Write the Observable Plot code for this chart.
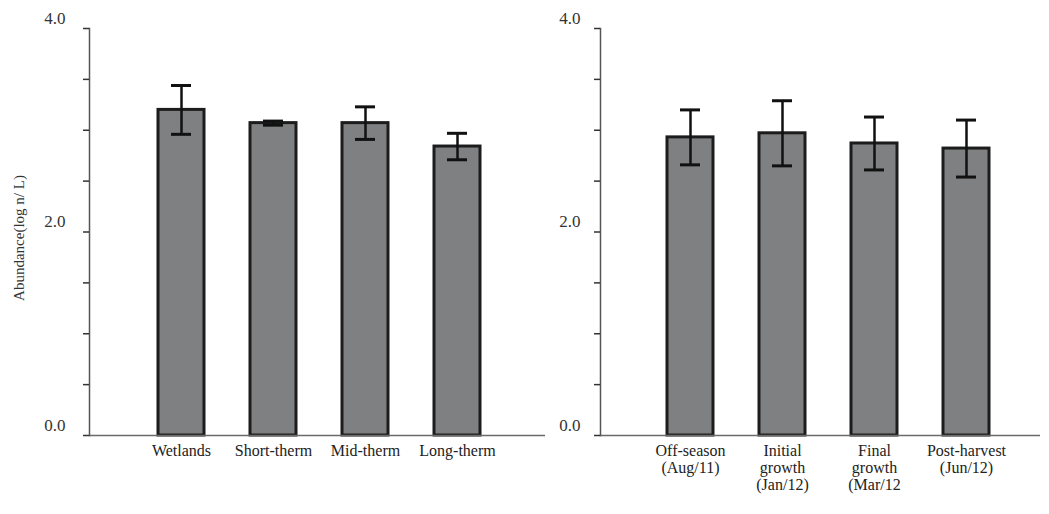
<!DOCTYPE html>
<html>
<head>
<meta charset="utf-8">
<script src="https://cdn.jsdelivr.net/npm/d3@7"></script>
<script src="https://cdn.jsdelivr.net/npm/@observablehq/plot@0.6"></script>
<style>
  html, body { margin: 0; padding: 0; background: #fff; }
  #charts { display: flex; flex-direction: row; width: 1049px; height: 514px; }
  #charts svg { max-width: none; flex: none; }
</style>
</head>
<body>
<div id="charts"></div>
<script>
// Abundance by land-use age (left) and by crop stage (right), mean ± error
const landCategories = ["Wetlands", "Short-therm", "Mid-therm", "Long-therm"];
const landMeans = [3.20, 3.07, 3.07, 2.84];
const landErrors = [0.24, 0.02, 0.16, 0.13];

const stageCategories = [
  "Off-season\n(Aug/11)",
  "Initial\ngrowth\n(Jan/12)",
  "Final\ngrowth\n(Mar/12",
  "Post-harvest\n(Jun/12)"
];
const stageMeans = [2.93, 2.97, 2.87, 2.82];
const stageErrors = [0.27, 0.32, 0.26, 0.28];

const yLabelTicks = [0, 2, 4];
const yMinorTicks = [0, 0.5, 1, 1.5, 2, 2.5, 3, 3.5, 4];
const yTitle = "Abundance(log n/ L)";

const font = "'Liberation Serif', 'DejaVu Serif', serif";

function panel({categories, means, errors, width, marginLeft, marginRight, xRange, labelPad, title}) {
  const rows = categories.map((c, i) => ({cat: c, v: means[i], e: errors[i]}));
  const marks = [
    // bars
    Plot.barY(rows, {x: "cat", y: "v", fill: "#7f8082", stroke: "#1c1c1c", strokeWidth: 3}),
    // error bars
    Plot.ruleX(rows, {x: "cat", y1: d => d.v - d.e, y2: d => d.v + d.e, stroke: "#111", strokeWidth: 2.5}),
    Plot.tickY(rows, {x: "cat", y: d => d.v + d.e, stroke: "#111", strokeWidth: 3, insetLeft: 13, insetRight: 13}),
    Plot.tickY(rows, {x: "cat", y: d => d.v - d.e, stroke: "#111", strokeWidth: 3, insetLeft: 13, insetRight: 13}),
    // axes
    Plot.ruleY([0], {stroke: "#6a6a6a", strokeWidth: 1.5}),
    Plot.frame({anchor: "left", stroke: "#555", strokeWidth: 1.5}),
    Plot.axisY({ticks: yMinorTicks, tickSize: 6, tickFormat: () => "", label: null, stroke: "#333", strokeWidth: 1.5}),
    Plot.axisY({ticks: yLabelTicks, tickSize: 0, tickPadding: labelPad, tickFormat: d => d.toFixed(1),
                label: null, dy: -10, fontSize: 17, fill: "#333"}),
    Plot.axisX({tickSize: 0, tickPadding: 9, fontSize: 16, lineHeight: 1.05, textAnchor: "middle",
                label: null, fill: "#222", lineAnchor: "top"})
  ];
  if (title) {
    marks.push(Plot.text([title], {frameAnchor: "left", textAnchor: "middle", rotate: -90,
                                   dx: -70, dy: 6, fontSize: 15, fill: "#333"}));
  }
  return Plot.plot({
    width,
    height: 514,
    marginTop: 28,
    marginBottom: 79,
    marginLeft,
    marginRight,
    style: {fontFamily: font, background: "transparent", color: "#222"},
    x: {domain: categories, range: xRange, paddingInner: 0.5, paddingOuter: 0.5},
    y: {domain: [0, 4]},
    marks
  });
}

const left = panel({
  categories: landCategories, means: landMeans, errors: landErrors,
  width: 550, marginLeft: 89, marginRight: 5, xRange: [112, 526], labelPad: 24, title: yTitle
});
const right = panel({
  categories: stageCategories, means: stageMeans, errors: stageErrors,
  width: 499, marginLeft: 50, marginRight: 9, xRange: [70, 486], labelPad: 20
});
document.getElementById("charts").append(left, right);
</script>
</body>
</html>
